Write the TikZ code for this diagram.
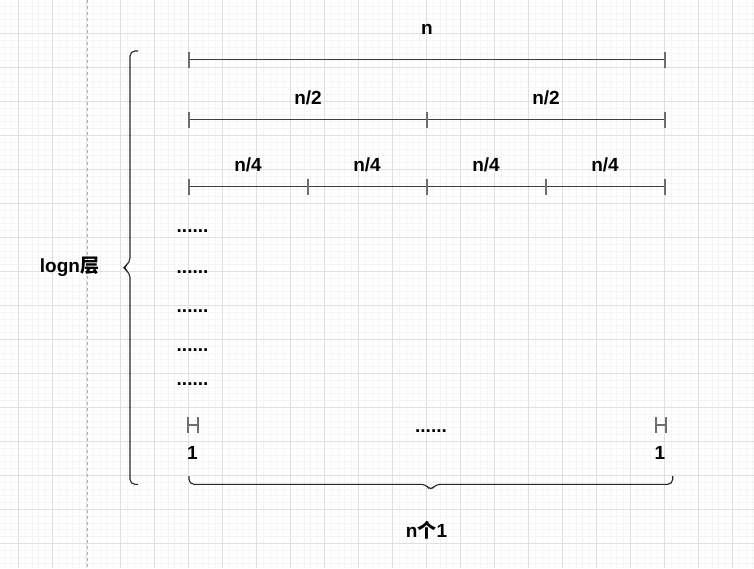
\documentclass[tikz,border=0pt]{standalone}
\usepackage{fontspec}
\setmainfont{Liberation Sans}
\newfontfamily\cjk{Noto Sans CJK SC}
\usetikzlibrary{positioning}

\definecolor{gridmajor}{HTML}{E0E0E0}
\definecolor{gridminor}{HTML}{F5F5F5}
\definecolor{segline}{HTML}{404040}
\definecolor{tickgray}{HTML}{6E6E6E}

\tikzset{
  lbl/.style={font=\fontsize{19}{22}\selectfont\bfseries, inner sep=0pt},
  seg/.style={segline, line width=1.1pt},
  tickmark/.style={tickgray, line width=1.1pt},
  brace/.style={black!85, line width=1.1pt, rounded corners=5pt},
}

\begin{document}
\begin{tikzpicture}[x=1pt,y=-1pt,>=stealth]
  \useasboundingbox (0,0) rectangle (754,568);

%%%%%%%%%%%%%%%%%%%%%%%%%%%%%%%%%%%%%%%%%%
  % Background grid
  \fill[white] (0,0) rectangle (754,568);
  \foreach \i in {0,...,111}
    \draw[gridminor, line width=0.7pt] ({4.7+6.8*\i},0) -- ++(0,568);
  \foreach \j in {1,...,84}
    \draw[gridminor, line width=0.7pt] (0,{-0.7+6.8*\j}) -- ++(754,0);
  \foreach \i in {0,...,22}
    \draw[gridmajor, line width=0.8pt] ({18.3+34*\i},0) -- ++(0,568);
  \foreach \j in {0,...,15}
    \draw[gridmajor, line width=0.8pt] (0,{33.3+34*\j}) -- ++(754,0);

  % Dashed guide
  \draw[gray!60, line width=0.8pt, dash pattern=on 3pt off 3pt] (87.5,0) -- (87.5,568);

%%%%%%%%%%%%%%%%%%%%%%%%%%%%%%%%%%%%%%%%%%
  % Level 0
  \coordinate (a0) at (189,59.5);
  \coordinate (b0) at (665,59.5);
  \draw[seg] (a0) -- (b0);
  \foreach \x in {189,665}
    \draw[tickmark] (\x,51.5) -- (\x,67.5);
  \node[lbl] (n0) at (427,29.5) {n};

  % Level 1
  \coordinate (a1) at (189,119.5);
  \coordinate (b1) at (665,119.5);
  \draw[seg] (a1) -- (b1);
  \foreach \x in {189,427,665}
    \draw[tickmark] (\x,111.5) -- (\x,127.5);
  \foreach \x/\name in {308/n1a,546/n1b}
    \node[lbl] (\name) at (\x,98) {n/2};

  % Level 2
  \coordinate (a2) at (189,186.5);
  \coordinate (b2) at (665,186.5);
  \draw[seg] (a2) -- (b2);
  \foreach \x in {189,308,427,546,665}
    \draw[tickmark] (\x,178.5) -- (\x,194.5);
  \foreach \x/\name in {248/n2a,367/n2b,486/n2c,605/n2d}
    \node[lbl] (\name) at (\x,165) {n/4};

  % Dots
  \foreach \y/\name in {232/d1,273.5/d2,312.5/d3,351/d4,385/d5}
    \node[lbl, anchor=base west] (\name) at (176.5,\y) {......};
  \node[lbl, anchor=base] (dmid) at (431,432) {......};

%%%%%%%%%%%%%%%%%%%%%%%%%%%%%%%%%%%%%%%%%%
  % Unit pieces
  \foreach \x in {188,656}{
    \draw[tickmark] (\x,417) -- (\x,433);
    \draw[tickmark] (\x+10,417) -- (\x+10,433);
    \draw[tickmark] (\x,425) -- (\x+10,425);
  }
  \node[lbl] (one1) at (192.5,453) {1};
  \node[lbl] (one2) at (660,453) {1};

  % Left brace
  \draw[brace] (138,51) -- (130,51) -- (130,263) -- (122.3,267.7)
    -- (130,272.5) -- (130,484.3) -- (138,484.3);
  \node[lbl] (levels) at (69.5,267) {logn{\cjk 层}};

  % Bottom brace
  \draw[brace] (189,476) -- (189,484.3) -- (426,484.3) -- (430.7,491)
    -- (435.5,484.3) -- (672.7,484.3) -- (672.7,476);
  \node[lbl] (ones) at (426.5,530.5) {n{\cjk 个}1};

\end{tikzpicture}
\end{document}
